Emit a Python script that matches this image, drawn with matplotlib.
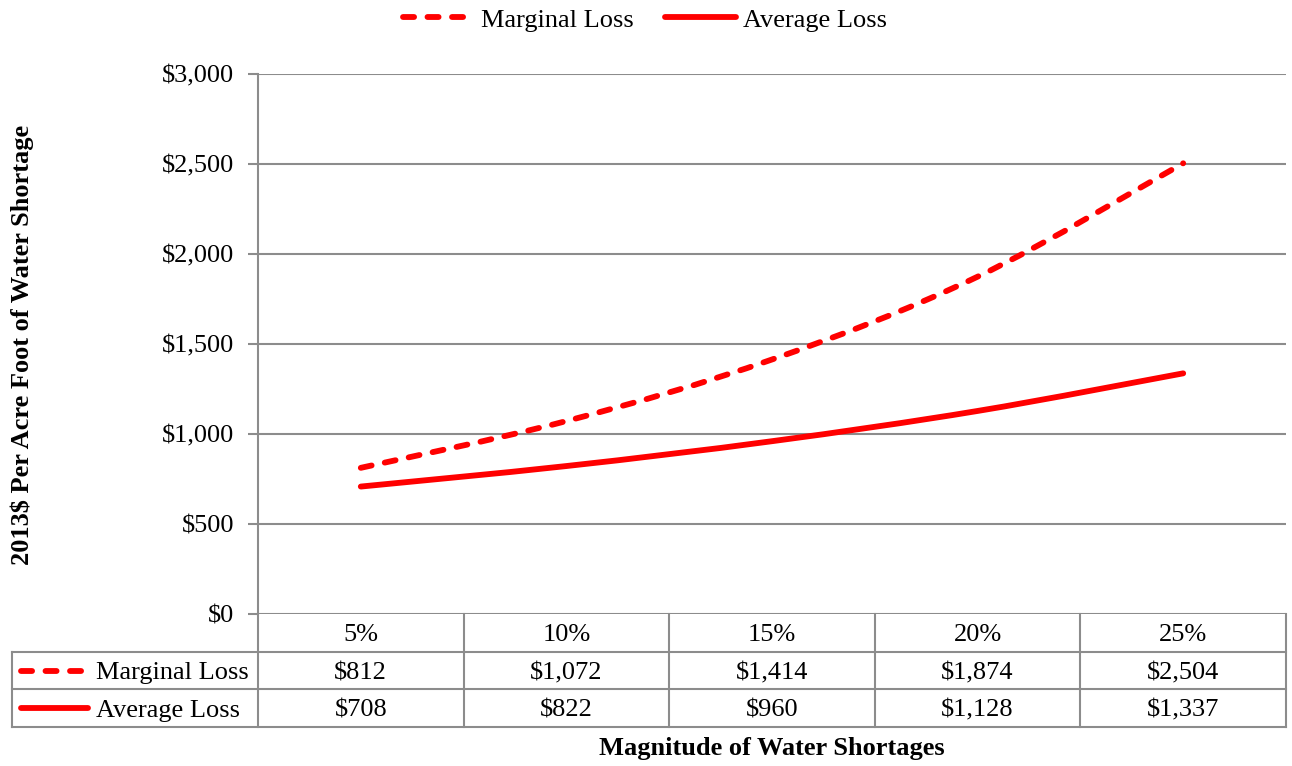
import matplotlib
matplotlib.use("Agg")
import matplotlib.pyplot as plt
import numpy as np
from matplotlib.path import Path
from matplotlib.patches import PathPatch
from matplotlib.lines import Line2D

# data
categories = ["5%", "10%", "15%", "20%", "25%"]
marginal_loss = [812, 1072, 1414, 1874, 2504]
average_loss = [708, 822, 960, 1128, 1337]
series_names = ["Marginal Loss", "Average Loss"]
y_ticks = [0, 500, 1000, 1500, 2000, 2500, 3000]

plt.rcParams['font.family'] = ['Liberation Serif', 'DejaVu Serif']
RED = "#FF0000"
GRID = "#8C8C8C"
W, H = 1292, 766
FS = 19
LW = 4.2

fig = plt.figure(figsize=(W / 100, H / 100), dpi=100)
L, R, T, B = 258, 1286, 74, 614
ax = fig.add_axes([L / W, 1 - B / H, (R - L) / W, (B - T) / H])


def smooth_path(xs, ys):
    # Excel-like smoothed line: Catmull-Rom to cubic Bezier
    xs = np.asarray(xs, float)
    ys = np.asarray(ys, float)
    pts = np.column_stack([xs, ys])
    verts = [pts[0]]
    codes = [Path.MOVETO]
    n = len(pts)
    for i in range(n - 1):
        p0 = pts[i - 1] if i > 0 else pts[i]
        p1 = pts[i]
        p2 = pts[i + 1]
        p3 = pts[i + 2] if i + 2 < n else pts[i + 1]
        c1 = p1 + (p2 - p0) / 6
        c2 = p2 - (p3 - p1) / 6
        verts += [c1, c2, p2]
        codes += [Path.CURVE4] * 3
    return Path(verts, codes)


x = np.arange(len(categories))
styles = [(0, (1.9, 2.3)), "-"]
for vals, ls in zip([marginal_loss, average_loss], styles):
    patch = PathPatch(smooth_path(x, vals), facecolor="none", edgecolor=RED,
                      lw=LW, linestyle=ls, capstyle="round", joinstyle="round",
                      transform=ax.transData, zorder=3)
    ax.add_patch(patch)

ax.set_xlim(-0.5, len(categories) - 0.5)
ax.set_ylim(0, 3000)
ax.set_yticks(y_ticks)
ax.set_yticklabels(["${:,}".format(v) for v in y_ticks], fontsize=FS)
ax.set_xticks([])
ax.grid(axis="y", color=GRID, lw=1.5)
ax.set_axisbelow(True)
for s in ["top", "right", "bottom"]:
    ax.spines[s].set_visible(False)
ax.spines["left"].set_color(GRID)
ax.spines["left"].set_linewidth(1.5)
ax.tick_params(axis="y", length=7, width=1.5, color=GRID, pad=10)

# data table below the axis
row_h = 37.7 / (B - T)
cw = 1.0 / len(categories)
lab_left = (12 - L) / (R - L)
tkw = dict(transform=ax.transAxes, clip_on=False, color=GRID, lw=1.5)
for k in range(len(categories) + 1):
    ax.plot([k * cw, k * cw], [0, -3 * row_h], **tkw)
ax.plot([lab_left, lab_left], [-row_h, -3 * row_h], **tkw)
for r in (1, 2, 3):
    ax.plot([lab_left, 1], [-r * row_h, -r * row_h], **tkw)

for k, c in enumerate(categories):
    ax.text((k + 0.5) * cw, -0.5 * row_h, c, transform=ax.transAxes,
            ha="center", va="center_baseline", fontsize=FS)
for r, (vals, ls, name) in enumerate(zip([marginal_loss, average_loss], styles, series_names)):
    yc = -(r + 1.5) * row_h
    for k, v in enumerate(vals):
        ax.text((k + 0.5) * cw, yc, "${:,}".format(v), transform=ax.transAxes,
                ha="center", va="center_baseline", fontsize=FS)
    x0 = (21 - L) / (R - L)
    x1 = (88 - L) / (R - L)
    ax.add_line(Line2D([x0, x1], [yc, yc], transform=ax.transAxes, color=RED,
                       lw=LW, linestyle=ls, solid_capstyle="round",
                       dash_capstyle="round", clip_on=False))
    ax.text((96 - L) / (R - L), yc, name, transform=ax.transAxes,
            ha="left", va="center_baseline", fontsize=FS)

# top legend
handles = [Line2D([], [], color=RED, lw=LW, linestyle=ls, dash_capstyle="round",
                  solid_capstyle="round") for ls in styles]
fig.legend(handles, series_names, loc="center", bbox_to_anchor=(645 / W, 1 - 20 / H),
           ncol=2, frameon=False, fontsize=FS, handlelength=2.7, handletextpad=0.25,
           columnspacing=1.2)

fig.text(22 / W, 1 - 345 / H, "2013$ Per Acre Foot of Water Shortage", rotation=90,
         ha="center", va="center", fontsize=FS, fontweight="bold")
fig.text(772 / W, 1 - 748 / H, "Magnitude of Water Shortages",
         ha="center", va="center", fontsize=FS, fontweight="bold")

fig.savefig("out.png", dpi=100)
